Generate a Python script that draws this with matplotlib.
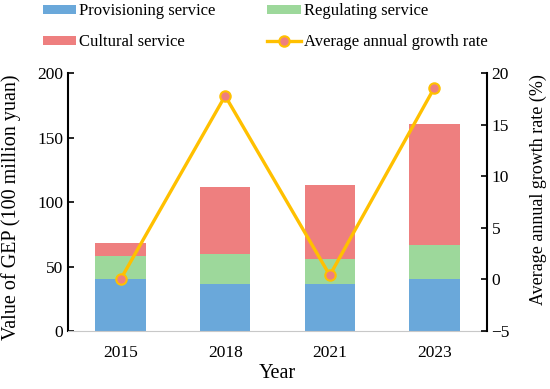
import matplotlib.pyplot as plt
import numpy as np

plt.rcParams['font.family'] = ['Liberation Serif', 'DejaVu Serif']

years = ['2015', '2018', '2021', '2023']
provisioning = [40.3, 36.2, 36.7, 40.3]
regulating = [17.8, 23.7, 19.1, 26.4]
cultural = [10.1, 52.0, 57.4, 93.5]
growth = [0.0, 17.8, 0.4, 18.6]

c_prov = '#6aa8da'
c_reg = '#9dd89b'
c_cult = '#ee7f7f'
c_line = '#ffc000'

fig = plt.figure(figsize=(5.5, 3.89), dpi=100)
ax = fig.add_axes([0.124, 0.149, 0.761, 0.663])
x = np.arange(len(years))
w = 0.48

b1 = ax.bar(x, provisioning, w, color=c_prov, label='Provisioning service')
b2 = ax.bar(x, regulating, w, bottom=provisioning, color=c_reg, label='Regulating service')
bot = np.array(provisioning) + np.array(regulating)
b3 = ax.bar(x, cultural, w, bottom=bot, color=c_cult, label='Cultural service')

ax.set_xlim(-0.5, 3.5)
ax.set_ylim(0, 200)
ax.set_yticks([0, 50, 100, 150, 200])
ax.set_xticks(x)
ax.set_xticklabels(years)
ax.tick_params(axis='y', direction='in', length=4, width=1.2, labelsize=12.5)
ax.tick_params(axis='x', length=0, labelsize=12.5, pad=10)
ax.spines['top'].set_visible(False)
ax.spines['right'].set_visible(False)
ax.spines['left'].set_linewidth(1.5)
ax.spines['bottom'].set_color('#c8c8c8')
ax.set_ylabel('Value of GEP (100 million yuan)', fontsize=14.5)
ax.yaxis.set_label_coords(-0.112, 0.48)
ax.set_xlabel('Year', fontsize=14.5, labelpad=2)

ax2 = ax.twinx()
l1, = ax2.plot(x, growth, color=c_line, lw=2.4, marker='o', markersize=7.5,
               markerfacecolor=c_cult, markeredgecolor=c_line, markeredgewidth=1.5,
               label='Average annual growth rate')
ax2.set_ylim(-5, 20)
ax2.set_yticks([-5, 0, 5, 10, 15, 20])
ax2.set_yticklabels(['\u22125', '0', '5', '10', '15', '20'])
ax2.tick_params(axis='y', direction='in', length=4, width=1.2, labelsize=12.5)
ax2.spines['top'].set_visible(False)
ax2.spines['left'].set_visible(False)
ax2.spines['bottom'].set_visible(False)
ax2.spines['right'].set_linewidth(1.5)
ax2.set_ylabel('Average annual growth rate (%)', fontsize=13)
ax2.yaxis.set_label_coords(1.103, 0.547)

fig.legend([b1, b3, b2, l1],
           ['Provisioning service', 'Cultural service', 'Regulating service', 'Average annual growth rate'],
           ncol=2, loc='upper left', bbox_to_anchor=(0.05, 1.03), frameon=False,
           fontsize=12, handlelength=2.0, handleheight=0.45, labelspacing=0.9,
           columnspacing=3.1, handletextpad=0.2)

fig.savefig('out.png', dpi=100)
